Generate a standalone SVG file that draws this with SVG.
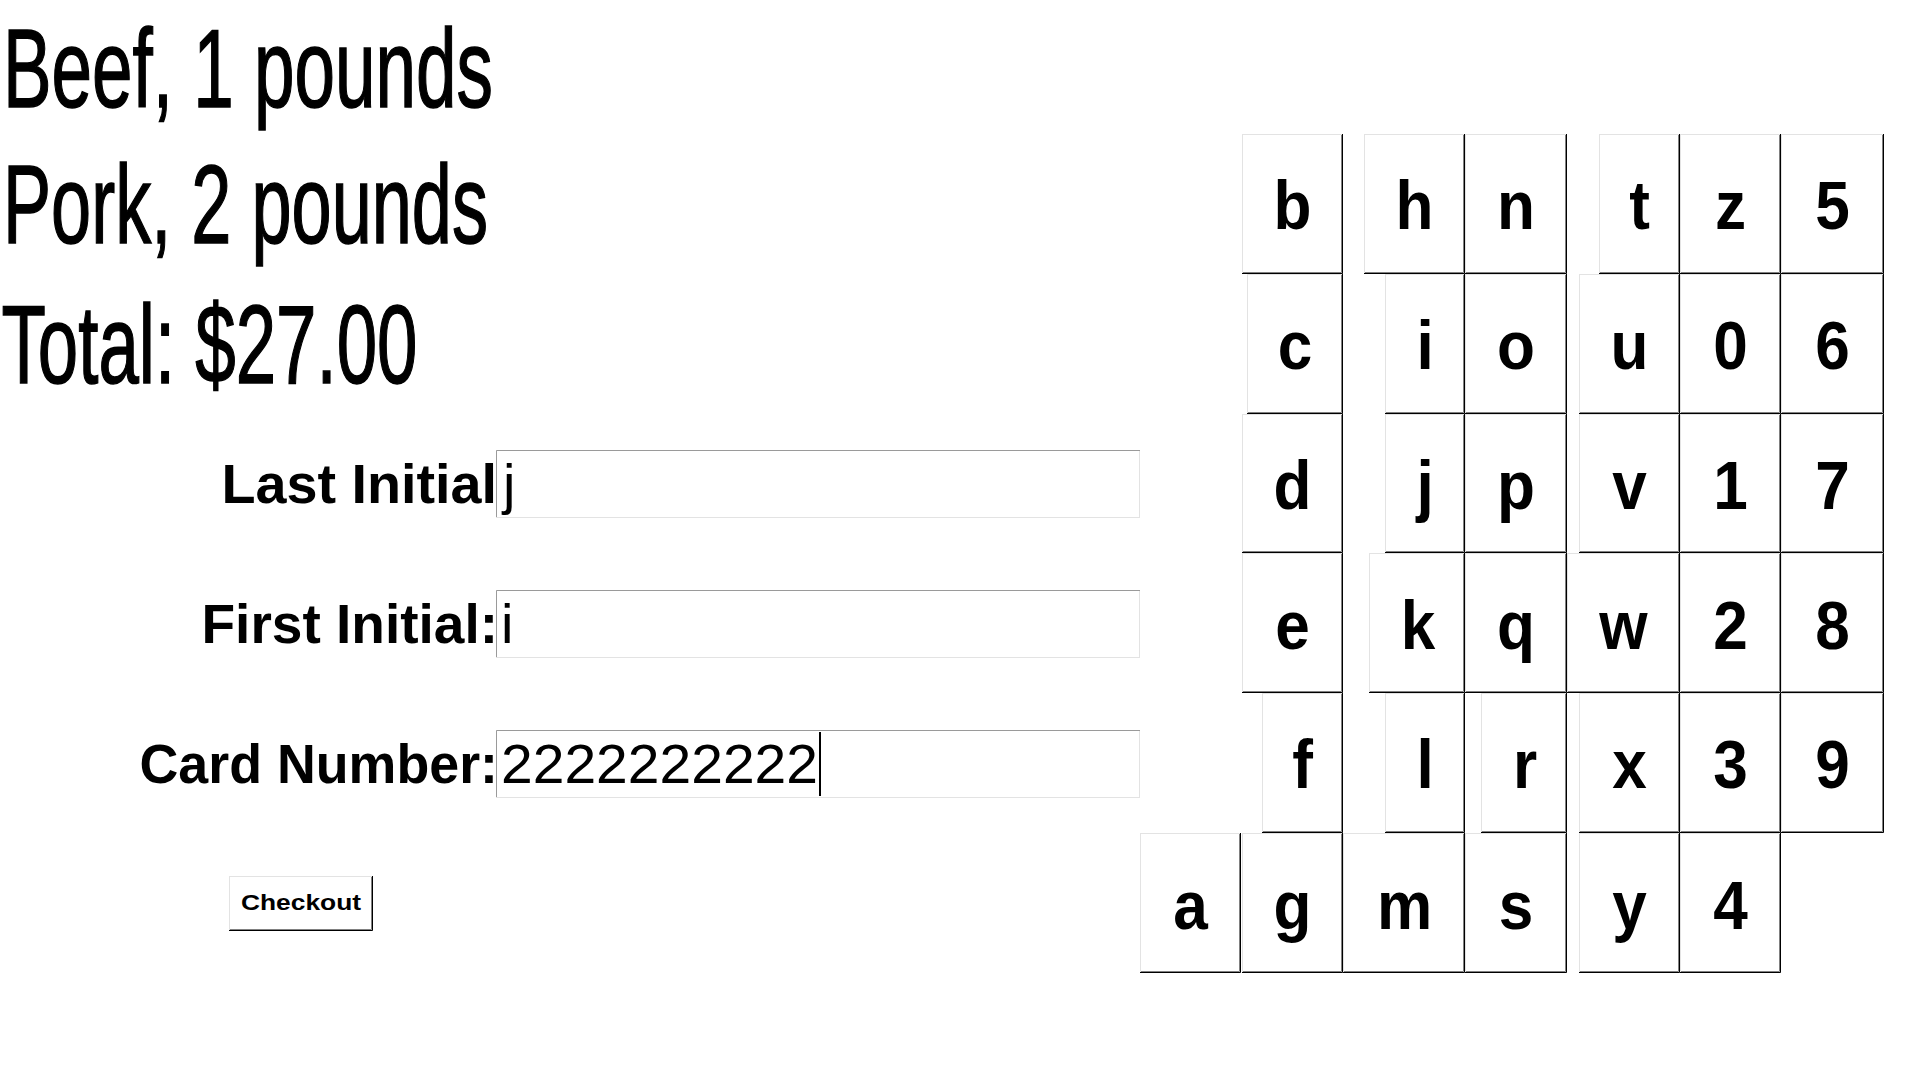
<svg xmlns="http://www.w3.org/2000/svg" width="1920" height="1080" viewBox="0 0 1920 1080">
<style>
.h{font-family:"Liberation Sans",Arial,sans-serif;font-size:111px;fill:#000;stroke:#000;stroke-width:1.5px}
.lb{font-family:"Liberation Sans",Arial,sans-serif;font-size:56px;font-weight:bold;fill:#000}
.iv{font-family:"Liberation Sans",Arial,sans-serif;font-size:56px;fill:#000}
.k{fill:#fff;stroke:#e3e3e3;stroke-width:1}
.d{fill:none;stroke:#000;stroke-width:1}
.g{fill:none;stroke:#808080;stroke-width:1}
.kt{font-family:"Liberation Sans",Arial,sans-serif;font-size:69px;font-weight:bold;text-anchor:middle;fill:#000}
.in{fill:#fff;stroke:#e3e3e3;stroke-width:1}
.it{fill:none;stroke:#9a9a9a;stroke-width:1}
.bt{font-family:"Liberation Sans",Arial,sans-serif;font-size:22px;font-weight:bold;fill:#000}
</style>
<rect width="1920" height="1080" fill="#fff"/>
<g id="order">
<text class="h" x="3" y="107" textLength="490" lengthAdjust="spacingAndGlyphs">Beef, 1 pounds</text>
<text class="h" x="3" y="243" textLength="485" lengthAdjust="spacingAndGlyphs">Pork, 2 pounds</text>
<text class="h" x="1.5" y="383" textLength="416" lengthAdjust="spacingAndGlyphs">Total: $27.00</text>
</g>
<g id="form">
<g id="last-initial">
<text class="lb" x="221.5" y="503" textLength="275.5" lengthAdjust="spacingAndGlyphs">Last Initial</text>
<rect class="in" x="496.5" y="450.5" width="643" height="67"/>
<path class="it" d="M496.5 517V450.5H1140"/>
<text class="iv" x="503" y="503">j</text>
</g>
<g id="first-initial">
<text class="lb" x="201.5" y="643" textLength="296.5" lengthAdjust="spacingAndGlyphs">First Initial:</text>
<rect class="in" x="496.5" y="590.5" width="643" height="67"/>
<path class="it" d="M496.5 657V590.5H1140"/>
<text class="iv" x="501" y="643">i</text>
</g>
<g id="card-number">
<text class="lb" x="139.5" y="783" textLength="358.5" lengthAdjust="spacingAndGlyphs">Card Number:</text>
<rect class="in" x="496.5" y="730.5" width="643" height="67"/>
<path class="it" d="M496.5 797V730.5H1140"/>
<text class="iv" x="501" y="783" textLength="317" lengthAdjust="spacingAndGlyphs">2222222222</text>
<rect x="819" y="732" width="2" height="64" fill="#000"/>
</g>
<g id="checkout">
<rect class="k" x="229.5" y="876.5" width="143" height="54"/>
<path class="d" d="M372.5 876V930.5H229"/>
<path class="g" d="M371.5 877V929.5H230"/>
<text class="bt" x="241" y="910" textLength="120" lengthAdjust="spacingAndGlyphs">Checkout</text>
</g>
</g>
<g id="keyboard">
<g id="key-b"><rect class="k" x="1242.5" y="134.5" width="100" height="139"/><path class="d" d="M1342.5 134V273.5H1242"/><path class="g" d="M1341.5 135V272.5H1243"/><text class="kt" transform="translate(1292.5 229) scale(.9 1)">b</text></g>
<g id="key-h"><rect class="k" x="1364.5" y="134.5" width="100" height="139"/><path class="d" d="M1464.5 134V273.5H1364"/><path class="g" d="M1463.5 135V272.5H1365"/><text class="kt" transform="translate(1414.5 229) scale(.9 1)">h</text></g>
<g id="key-n"><rect class="k" x="1465.5" y="134.5" width="101" height="139"/><path class="d" d="M1566.5 134V273.5H1465"/><path class="g" d="M1565.5 135V272.5H1466"/><text class="kt" transform="translate(1516 229) scale(.9 1)">n</text></g>
<g id="key-t"><rect class="k" x="1599.5" y="134.5" width="80" height="139"/><path class="d" d="M1679.5 134V273.5H1599"/><path class="g" d="M1678.5 135V272.5H1600"/><text class="kt" transform="translate(1639.5 229) scale(.9 1)">t</text></g>
<g id="key-z"><rect class="k" x="1680.5" y="134.5" width="100" height="139"/><path class="d" d="M1780.5 134V273.5H1680"/><path class="g" d="M1779.5 135V272.5H1681"/><text class="kt" transform="translate(1730.5 229) scale(.9 1)">z</text></g>
<g id="key-5"><rect class="k" x="1781.5" y="134.5" width="102" height="139"/><path class="d" d="M1883.5 134V273.5H1781"/><path class="g" d="M1882.5 135V272.5H1782"/><text class="kt" transform="translate(1832.5 229) scale(.9 1)">5</text></g>

<g id="key-c"><rect class="k" x="1247.5" y="274.5" width="95" height="139"/><path class="d" d="M1342.5 274V413.5H1247"/><path class="g" d="M1341.5 275V412.5H1248"/><text class="kt" transform="translate(1295 369) scale(.9 1)">c</text></g>
<g id="key-i"><rect class="k" x="1385.5" y="274.5" width="79" height="139"/><path class="d" d="M1464.5 274V413.5H1385"/><path class="g" d="M1463.5 275V412.5H1386"/><text class="kt" transform="translate(1425 369) scale(.9 1)">i</text></g>
<g id="key-o"><rect class="k" x="1465.5" y="274.5" width="101" height="139"/><path class="d" d="M1566.5 274V413.5H1465"/><path class="g" d="M1565.5 275V412.5H1466"/><text class="kt" transform="translate(1516 369) scale(.9 1)">o</text></g>
<g id="key-u"><rect class="k" x="1579.5" y="274.5" width="100" height="139"/><path class="d" d="M1679.5 274V413.5H1579"/><path class="g" d="M1678.5 275V412.5H1580"/><text class="kt" transform="translate(1629.5 369) scale(.9 1)">u</text></g>
<g id="key-0"><rect class="k" x="1680.5" y="274.5" width="100" height="139"/><path class="d" d="M1780.5 274V413.5H1680"/><path class="g" d="M1779.5 275V412.5H1681"/><text class="kt" transform="translate(1730.5 369) scale(.9 1)">0</text></g>
<g id="key-6"><rect class="k" x="1781.5" y="274.5" width="102" height="139"/><path class="d" d="M1883.5 274V413.5H1781"/><path class="g" d="M1882.5 275V412.5H1782"/><text class="kt" transform="translate(1832.5 369) scale(.9 1)">6</text></g>

<g id="key-d"><rect class="k" x="1242.5" y="414.5" width="100" height="138"/><path class="d" d="M1342.5 414V552.5H1242"/><path class="g" d="M1341.5 415V551.5H1243"/><text class="kt" transform="translate(1292.5 509) scale(.9 1)">d</text></g>
<g id="key-j"><rect class="k" x="1385.5" y="414.5" width="79" height="138"/><path class="d" d="M1464.5 414V552.5H1385"/><path class="g" d="M1463.5 415V551.5H1386"/><text class="kt" transform="translate(1425 509) scale(.9 1)">j</text></g>
<g id="key-p"><rect class="k" x="1465.5" y="414.5" width="101" height="138"/><path class="d" d="M1566.5 414V552.5H1465"/><path class="g" d="M1565.5 415V551.5H1466"/><text class="kt" transform="translate(1516 509) scale(.9 1)">p</text></g>
<g id="key-v"><rect class="k" x="1579.5" y="414.5" width="100" height="138"/><path class="d" d="M1679.5 414V552.5H1579"/><path class="g" d="M1678.5 415V551.5H1580"/><text class="kt" transform="translate(1629.5 509) scale(.9 1)">v</text></g>
<g id="key-1"><rect class="k" x="1680.5" y="414.5" width="100" height="138"/><path class="d" d="M1780.5 414V552.5H1680"/><path class="g" d="M1779.5 415V551.5H1681"/><text class="kt" transform="translate(1730.5 509) scale(.9 1)">1</text></g>
<g id="key-7"><rect class="k" x="1781.5" y="414.5" width="102" height="138"/><path class="d" d="M1883.5 414V552.5H1781"/><path class="g" d="M1882.5 415V551.5H1782"/><text class="kt" transform="translate(1832.5 509) scale(.9 1)">7</text></g>

<g id="key-e"><rect class="k" x="1242.5" y="553.5" width="100" height="139"/><path class="d" d="M1342.5 553V692.5H1242"/><path class="g" d="M1341.5 554V691.5H1243"/><text class="kt" transform="translate(1292.5 649) scale(.9 1)">e</text></g>
<g id="key-k"><rect class="k" x="1369.5" y="553.5" width="95" height="139"/><path class="d" d="M1464.5 553V692.5H1369"/><path class="g" d="M1463.5 554V691.5H1370"/><text class="kt" transform="translate(1418 649) scale(.9 1)">k</text></g>
<g id="key-q"><rect class="k" x="1465.5" y="553.5" width="101" height="139"/><path class="d" d="M1566.5 553V692.5H1465"/><path class="g" d="M1565.5 554V691.5H1466"/><text class="kt" transform="translate(1516 649) scale(.9 1)">q</text></g>
<g id="key-w"><rect class="k" x="1567.5" y="553.5" width="112" height="139"/><path class="d" d="M1679.5 553V692.5H1567"/><path class="g" d="M1678.5 554V691.5H1568"/><text class="kt" transform="translate(1623.5 649) scale(.9 1)">w</text></g>
<g id="key-2"><rect class="k" x="1680.5" y="553.5" width="100" height="139"/><path class="d" d="M1780.5 553V692.5H1680"/><path class="g" d="M1779.5 554V691.5H1681"/><text class="kt" transform="translate(1730.5 649) scale(.9 1)">2</text></g>
<g id="key-8"><rect class="k" x="1781.5" y="553.5" width="102" height="139"/><path class="d" d="M1883.5 553V692.5H1781"/><path class="g" d="M1882.5 554V691.5H1782"/><text class="kt" transform="translate(1832.5 649) scale(.9 1)">8</text></g>

<g id="key-f"><rect class="k" x="1262.5" y="693.5" width="80" height="139"/><path class="d" d="M1342.5 693V832.5H1262"/><path class="g" d="M1341.5 694V831.5H1263"/><text class="kt" transform="translate(1302.5 788) scale(.9 1)">f</text></g>
<g id="key-l"><rect class="k" x="1385.5" y="693.5" width="79" height="139"/><path class="d" d="M1464.5 693V832.5H1385"/><path class="g" d="M1463.5 694V831.5H1386"/><text class="kt" transform="translate(1425 788) scale(.9 1)">l</text></g>
<g id="key-r"><rect class="k" x="1481.5" y="693.5" width="85" height="139"/><path class="d" d="M1566.5 693V832.5H1481"/><path class="g" d="M1565.5 694V831.5H1482"/><text class="kt" transform="translate(1525 788) scale(.9 1)">r</text></g>
<g id="key-x"><rect class="k" x="1579.5" y="693.5" width="100" height="139"/><path class="d" d="M1679.5 693V832.5H1579"/><path class="g" d="M1678.5 694V831.5H1580"/><text class="kt" transform="translate(1629.5 788) scale(.9 1)">x</text></g>
<g id="key-3"><rect class="k" x="1680.5" y="693.5" width="100" height="139"/><path class="d" d="M1780.5 693V832.5H1680"/><path class="g" d="M1779.5 694V831.5H1681"/><text class="kt" transform="translate(1730.5 788) scale(.9 1)">3</text></g>
<g id="key-9"><rect class="k" x="1781.5" y="693.5" width="102" height="139"/><path class="d" d="M1883.5 693V832.5H1781"/><path class="g" d="M1882.5 694V831.5H1782"/><text class="kt" transform="translate(1832.5 788) scale(.9 1)">9</text></g>

<g id="key-a"><rect class="k" x="1140.5" y="833.5" width="100" height="139"/><path class="d" d="M1240.5 833V972.5H1140"/><path class="g" d="M1239.5 834V971.5H1141"/><text class="kt" transform="translate(1190.5 929) scale(.9 1)">a</text></g>
<g id="key-g"><rect class="k" x="1242.5" y="833.5" width="100" height="139"/><path class="d" d="M1342.5 833V972.5H1242"/><path class="g" d="M1341.5 834V971.5H1243"/><text class="kt" transform="translate(1292.5 929) scale(.9 1)">g</text></g>
<g id="key-m"><rect class="k" x="1343.5" y="833.5" width="121" height="139"/><path class="d" d="M1464.5 833V972.5H1343"/><path class="g" d="M1463.5 834V971.5H1344"/><text class="kt" transform="translate(1404.5 929) scale(.9 1)">m</text></g>
<g id="key-s"><rect class="k" x="1465.5" y="833.5" width="101" height="139"/><path class="d" d="M1566.5 833V972.5H1465"/><path class="g" d="M1565.5 834V971.5H1466"/><text class="kt" transform="translate(1516 929) scale(.9 1)">s</text></g>
<g id="key-y"><rect class="k" x="1579.5" y="833.5" width="100" height="139"/><path class="d" d="M1679.5 833V972.5H1579"/><path class="g" d="M1678.5 834V971.5H1580"/><text class="kt" transform="translate(1629.5 929) scale(.9 1)">y</text></g>
<g id="key-4"><rect class="k" x="1680.5" y="833.5" width="100" height="139"/><path class="d" d="M1780.5 833V972.5H1680"/><path class="g" d="M1779.5 834V971.5H1681"/><text class="kt" transform="translate(1730.5 929) scale(.9 1)">4</text></g>
</g>
<g id="connectors"/>
</svg>
